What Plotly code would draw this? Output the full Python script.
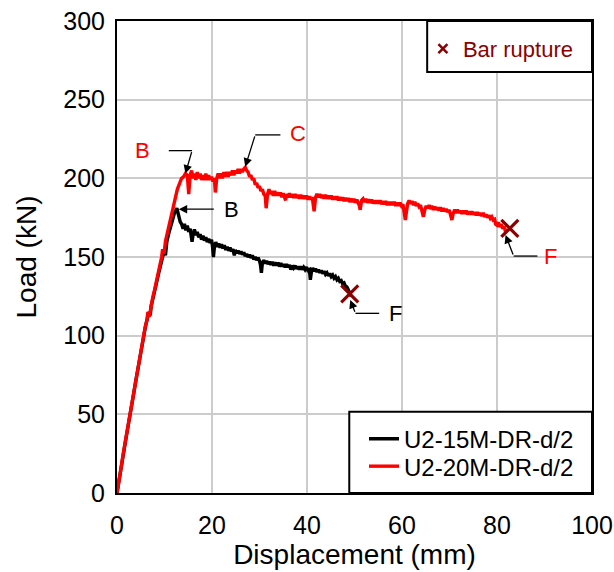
import plotly.graph_objects as go

# Load-displacement response, U2-15M-DR-d/2 specimen
disp_15m = [0, 0.3, 0.8, 1.3, 1.8, 2.3, 2.6, 3.0, 3.5, 4.0, 4.4, 4.9, 5.3, 5.6, 6.0, 6.4, 6.7, 7.0,
            7.2, 7.6, 8.0, 8.4, 8.8, 9.2, 9.6, 10.0, 10.2, 10.5, 10.9, 11.3, 11.7, 12.1, 12.6,
            12.9, 13.1, 13.3, 13.6, 13.9, 14.2, 14.5, 14.8, 15.1, 15.4, 15.6, 15.8, 16.0, 16.3,
            16.6, 16.9, 17.2, 17.5, 17.8, 18.1, 18.4, 18.7, 19.0, 19.3, 19.6, 19.9, 20.1, 20.3,
            20.5, 20.8, 21.1, 21.4, 21.7, 22.0, 22.3, 22.6, 22.9, 23.2, 23.5, 23.8, 24.1, 24.4,
            24.7, 24.9, 25.2, 25.5, 25.8, 26.1, 26.4, 26.7, 27.0, 27.3, 27.6, 27.9, 28.2, 28.5,
            28.8, 29.1, 29.4, 29.7, 30.0, 30.2, 30.4, 30.6, 30.9, 31.2, 31.5, 31.8, 32.1, 32.4,
            32.7, 33.0, 33.3, 33.6, 33.9, 34.2, 34.5, 34.8, 35.1, 35.4, 35.7, 36.0, 36.3, 36.6,
            36.9, 37.2, 37.5, 37.8, 38.1, 38.4, 38.7, 39.0, 39.3, 39.6, 39.9, 40.2, 40.5, 40.7,
            40.9, 41.2, 41.5, 41.8, 42.1, 42.4, 42.7, 43.0, 43.3, 43.6, 43.9, 44.2, 44.5, 44.8,
            45.1, 45.4, 45.7, 46.0, 46.3, 46.6, 46.9, 47.2, 47.5, 47.8, 48.1, 48.4, 48.7, 49.0,
            49.3]
load_15m = [0, 6, 14, 24, 33, 42, 48, 55, 63, 72, 79, 88, 95, 100, 106, 111, 115, 113,
            119, 124, 130, 135, 140, 145, 150, 155, 151, 160, 165, 170, 174, 178, 181,
            177, 174, 172.4, 171, 168, 171, 167, 170, 166, 168, 163, 159.7, 164, 167.5,
            164, 166, 162.5, 164.5, 161, 163.5, 160.5, 162.5, 159.5, 161.5, 159, 161, 157, 150,
            156, 159.5, 156.5, 158.5, 156, 158, 155.5, 157.5, 154.5, 156.5, 154, 156, 153.5, 155,
            151, 154.5, 152.5, 154, 152, 153.5, 151.5, 153, 150.5, 152, 150, 151.5, 149.5, 151,
            148.5, 150, 148, 149.5, 147.5, 145, 140, 146, 148, 146, 147.5, 145.5, 147, 145,
            147, 144.5, 146.5, 144.5, 146.5, 144, 146, 144, 145.5, 143.5, 145.5, 143.5, 145, 142,
            144.5, 143, 144.5, 142.5, 144, 142, 144, 142, 143.5, 142, 143.5, 141.5, 142, 135.5,
            140, 143, 141, 142.5, 140.5, 142, 140, 141.5, 139.5, 141, 139, 140, 138, 139.5,
            137.5, 138.5, 136.5, 137.5, 135.5, 136.5, 134.5, 135, 133, 133.5, 131.5, 131, 129, 127.5,
            125]

# Load-displacement response, U2-20M-DR-d/2 specimen
disp_20m = [0, 0.3, 0.8, 1.3, 1.8, 2.3, 2.7, 3.1, 3.6, 4.0, 4.5, 5.0, 5.5, 5.9, 6.3, 6.5, 6.8,
            7.1, 7.5, 7.9, 8.3, 8.7, 9.1, 9.4, 9.6, 9.9, 10.2, 10.7, 11.2, 11.7, 12.2, 12.7,
            13.2, 13.6, 14.0, 14.4, 14.8, 15.1, 15.4, 15.7, 16.0, 16.3, 16.6, 16.9, 17.2, 17.5,
            17.8, 18.1, 18.4, 18.7, 19.0, 19.3, 19.6, 19.9, 20.2, 20.5, 20.7, 21.0, 21.3, 21.6,
            21.9, 22.2, 22.5, 22.8, 23.1, 23.4, 23.7, 24.0, 24.3, 24.6, 24.9, 25.2, 25.5, 25.8,
            26.1, 26.4, 26.7, 27.0, 27.3, 27.6, 27.9, 28.2, 28.5, 28.8, 29.1, 29.4, 29.7, 30.0,
            30.3, 30.6, 30.9, 31.2, 31.4, 31.7, 32.0, 32.3, 32.6, 32.9, 33.2, 33.5, 33.8, 34.1,
            34.4, 34.7, 35.0, 35.3, 35.5, 35.7, 36.0, 36.3, 36.6, 36.9, 37.2, 37.5, 37.8, 38.1,
            38.4, 38.7, 39.0, 39.3, 39.6, 39.9, 40.2, 40.5, 40.8, 41.1, 41.3, 41.5, 41.8, 42.1,
            42.4, 42.7, 43.0, 43.3, 43.6, 43.9, 44.2, 44.5, 44.8, 45.1, 45.4, 45.7, 46.0, 46.3,
            46.6, 46.9, 47.2, 47.5, 47.8, 48.1, 48.4, 48.7, 49.0, 49.3, 49.6, 49.9, 50.2, 50.5,
            50.8, 51.0, 51.2, 51.5, 51.8, 52.1, 52.4, 52.7, 53.0, 53.3, 53.6, 53.9, 54.2, 54.5,
            54.8, 55.1, 55.4, 55.7, 56.0, 56.3, 56.6, 56.9, 57.2, 57.5, 57.8, 58.1, 58.4, 58.7,
            59.0, 59.3, 59.6, 59.9, 60.2, 60.5, 60.7, 60.9, 61.2, 61.5, 61.8, 62.1, 62.4, 62.7,
            63.0, 63.3, 63.6, 63.9, 64.2, 64.5, 64.8, 65.1, 65.4, 65.7, 66.0, 66.3, 66.6, 66.9,
            67.2, 67.5, 67.8, 68.1, 68.4, 68.7, 69.0, 69.3, 69.6, 69.9, 70.2, 70.5, 70.8, 71.1,
            71.4, 71.7, 72.0, 72.3, 72.6, 72.9, 73.2, 73.5, 73.8, 74.1, 74.4, 74.7, 75.0, 75.3,
            75.6, 75.9, 76.2, 76.5, 76.8, 77.1, 77.4, 77.7, 78.0, 78.3, 78.6, 78.9, 79.2, 79.5,
            79.7, 80.0, 80.3, 80.6, 80.9, 81.2, 81.5, 81.8, 82.1]
load_20m = [0, 7, 15, 25, 34, 43, 50, 57, 66, 73, 82, 90, 99, 105, 110, 115, 112,
            118, 124, 129, 134, 139, 145, 150, 155, 152, 160, 167, 174, 181, 187, 193,
            197, 200, 201, 203, 202, 190, 202, 205, 200, 203, 199, 204, 200, 203,
            199, 202, 199, 203, 199, 202, 199, 201, 198, 200, 191, 200, 203, 200,
            203, 200, 204, 201, 204, 201, 204, 202, 205, 202, 205, 203, 206, 203,
            206, 204, 206, 207, 205, 204, 201, 202, 199, 200, 196, 197, 194, 195,
            192, 193, 190, 189, 181, 190, 193, 190, 192, 189, 192, 189, 191, 189,
            191, 188, 190.5, 188, 186, 190, 188, 190.5, 188, 190, 187.5, 190, 187.5, 189.5,
            187, 189.5, 187, 189, 187, 189, 186.5, 188.5, 186.5, 188, 184, 179, 188, 190,
            188, 190, 187.5, 189.5, 187, 189.5, 187, 189, 187, 189, 186.5, 188.5, 186.5, 188.5,
            186, 188, 186, 188, 185.5, 187.5, 185.5, 187.5, 185, 187, 185, 187, 184.5, 186.5,
            184, 183, 180, 186, 187, 185, 187, 184.5, 186.5, 184.5, 186.5, 184, 186, 184,
            186, 184, 186, 183.5, 185.5, 183.5, 185.5, 183, 185, 183, 185, 183, 185, 182.5,
            184.5, 182.5, 184.5, 182.5, 183.5, 179, 173.5, 178, 184, 186, 184, 185.5, 183, 185,
            182.5, 184, 182, 183, 180, 175.6, 180, 182.5, 181, 183, 180.5, 182.5, 180, 182,
            180, 181.5, 179.5, 181.5, 179, 181, 179, 180.5, 178.5, 180, 177, 173.5, 178, 180,
            178, 180, 178, 179.5, 177.5, 179.5, 177.5, 179.5, 177, 179, 177, 179, 177, 178.5,
            176.5, 178.5, 176.5, 178, 176, 178, 175.5, 177, 175, 176.5, 174.5, 175.5, 173.5, 174,
            171, 170.3, 172, 169, 171, 168, 169.5, 166, 168]

# Bar rupture points
rupture_disp = [49.0, 82.7]
rupture_load = [126.5, 168.2]

series_names = ["U2-15M-DR-d/2", "U2-20M-DR-d/2"]
rupture_label = "Bar rupture"

x_ticks = [0, 20, 40, 60, 80, 100]
y_ticks = [0, 50, 100, 150, 200, 250, 300]

FONT = "Liberation Sans, Arial, sans-serif"
DARKRED = "#8B0000"

fig = go.Figure()
fig.add_trace(go.Scatter(x=disp_15m, y=load_15m, mode="lines", name=series_names[0],
                         line=dict(color="black", width=3.4), legend="legend"))
fig.add_trace(go.Scatter(x=disp_20m, y=load_20m, mode="lines", name=series_names[1],
                         line=dict(color="#ff0000", width=3.4), legend="legend3"))
fig.add_trace(go.Scatter(x=rupture_disp, y=rupture_load, mode="markers", showlegend=False,
                         marker=dict(symbol="x-thin", size=17,
                                     line=dict(color=DARKRED, width=3.2))))
# legend entry for rupture symbol (small glyph)
fig.add_trace(go.Scatter(x=[None], y=[None], mode="markers", name=rupture_label,
                         legend="legend2",
                         marker=dict(symbol="x-thin", size=9,
                                     line=dict(color=DARKRED, width=2.5))))

# callouts: (label, colour, text_x, text_y, tail_x, tail_y, elbow_end_x, tip_x, tip_y)
callouts = [
    ("B", "#ff0000", 5.3, 217.6, 15.8, 217.6, 10.9, 14.4, 203.0),
    ("C", "#ff0000", 38.0, 228.5, 29.1, 227.6, 34.4, 27.0, 207.4),
    ("B", "black", 24.1, 180.4, 20.7, 180.4, 20.7, 13.0, 180.4),
    ("F", "#ff0000", 91.3, 150.6, 83.5, 150.6, 88.5, 81.8, 164.0),
    ("F", "black", 58.6, 114.2, 50.2, 114.2, 55.2, 49.1, 122.7),
]
shapes = []
annotations = []
for label, col, tx, ty, ax_, ay_, ex, hx, hy in callouts:
    annotations.append(dict(x=tx, y=ty, xref="x", yref="y", text=label, showarrow=False,
                            font=dict(family=FONT, size=22, color=col)))
    annotations.append(dict(x=hx, y=hy, ax=ax_, ay=ay_, xref="x", yref="y", axref="x",
                            ayref="y", text="", showarrow=True, arrowhead=2, arrowsize=1.3,
                            arrowwidth=1.3, arrowcolor="black", standoff=0, startstandoff=0))
    if ex != ax_:
        shapes.append(dict(type="line", xref="x", yref="y", x0=ax_, x1=ex, y0=ay_, y1=ay_,
                           line=dict(color="black", width=1.3)))

# framed boxes for the legends
shapes.append(dict(type="rect", xref="paper", yref="paper", x0=0.489, x1=1.0, y0=0.0, y1=0.172,
                   line=dict(color="black", width=2), fillcolor="white", layer="above"))
shapes.append(dict(type="rect", xref="paper", yref="paper", x0=0.653, x1=1.0, y0=0.892, y1=1.0,
                   line=dict(color="black", width=2), fillcolor="white", layer="above"))

axis_common = dict(
    showline=True, linecolor="black", linewidth=2, mirror=True,
    showgrid=True, gridcolor="#cccccc", gridwidth=1.5,
    zeroline=False, ticks="", automargin=False,
    tickfont=dict(family=FONT, size=25, color="black"),
)

legend_common = dict(xanchor="left", yanchor="middle", bgcolor="rgba(0,0,0,0)", borderwidth=0)

fig.update_layout(
    width=614, height=572,
    margin=dict(l=117, r=22, t=21, b=79),
    plot_bgcolor="white", paper_bgcolor="white",
    font=dict(family=FONT, color="black"),
    xaxis=dict(range=[0, 100], tickvals=x_ticks, ticklabelstandoff=9, **axis_common,
               title=dict(text="Displacement (mm)", font=dict(family=FONT, size=28), standoff=2)),
    yaxis=dict(range=[0, 300], tickvals=y_ticks, ticklabelstandoff=5, **axis_common,
               title=dict(text="Load (kN)", font=dict(family=FONT, size=28), standoff=18)),
    legend=dict(x=0.52, y=0.114, font=dict(family=FONT, size=24, color="black"),
                **legend_common),
    legend3=dict(x=0.52, y=0.056, font=dict(family=FONT, size=24, color="black"),
                 **legend_common),
    legend2=dict(x=0.644, y=0.941, font=dict(family=FONT, size=22, color=DARKRED),
                 **legend_common),
    shapes=shapes,
    annotations=annotations,
)

fig.write_html("out.html")
